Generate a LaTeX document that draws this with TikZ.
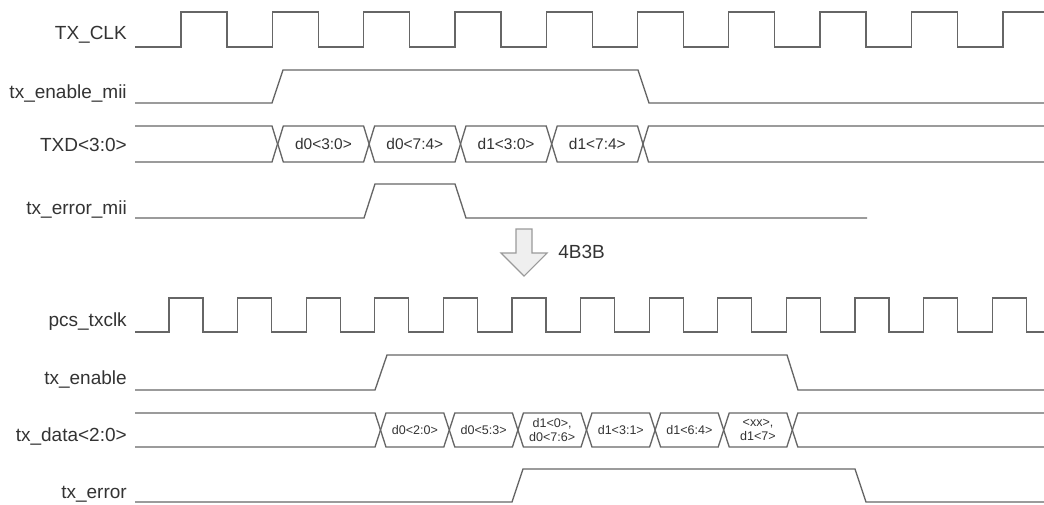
\documentclass[tikz,border=0pt]{standalone}
\usepackage{fontspec}
\setmainfont{Liberation Sans}
\usepackage{tikz}
\usetikzlibrary{positioning}
\usetikzlibrary{calc}
\definecolor{wavegray}{HTML}{666666}
\definecolor{textgray}{HTML}{333333}
\definecolor{arrowgray}{HTML}{9A9A9A}
\definecolor{arrowfill}{HTML}{EFEFEF}
\tikzstyle{wave} = [draw=wavegray, line width=1pt]
\tikzstyle{signame} = [anchor=base east, inner sep=0pt, text=textgray, font=\fontsize{14.25}{17}\selectfont]
\tikzstyle{busval} = [inner sep=0pt, text=textgray, font=\fontsize{11.6}{13}\selectfont]
\tikzstyle{smallbusval} = [inner sep=0pt, align=center, text=textgray, font=\fontsize{9.4}{10}\selectfont]
\tikzstyle{blockarrow} = [draw=arrowgray, fill=arrowfill, line width=0.8pt]

\begin{document}
\begin{tikzpicture}[x=0.75pt,y=-0.75pt]
    \useasboundingbox (0,0) rectangle (1044,504);

    \foreach \pos/\name/\label in {{(127,39)/txclk/TX\_CLK}, {(127,98)/txenmii/tx\_enable\_mii}, {(127,151)/txd/TXD<3:0>}, {(127,214)/txerrmii/tx\_error\_mii}, {(127,326)/pcsclk/pcs\_txclk}, {(127,384)/txen/tx\_enable}, {(127,441)/txdata/tx\_data<2:0>}, {(127,498)/txerr/tx\_error}}
        \node[signame] (\name) at \pos {\label};

    % MII side
    \draw[wave] (135,47) foreach \k in {0,...,8} {
        -- ({181+91.3*\k},47) -- ({181+91.3*\k},12) -- ({227+91.3*\k},12) -- ({227+91.3*\k},47)
    } -- (1003,47) -- (1003,12) -- (1044,12);

    \draw[wave] (135,103) -- (272,103) -- (283,70) -- (638,70) -- (649,103) -- (1044,103);

    \draw[wave] (135,126) -- (272,126) -- (277.5,144) -- (272,162) -- (135,162);
    \foreach \a/\b/\name/\label in {272.3/363.6/nib0/d0<3:0>, 363.6/455/nib1/d0<7:4>, 455/546.2/nib2/d1<3:0>, 546.2/637.5/nib3/d1<7:4>}
    {
        \draw[wave] ({\a+5.5},144) -- ({\a+11},126) -- (\b,126) -- ({\b+5.5},144) -- (\b,162) -- ({\a+11},162) -- cycle;
        \node[busval] (\name) at ({(\a+11+\b)/2},144) {\label};
    }
    \draw[wave] (1044,126) -- (648.5,126) -- (643,144) -- (648.5,162) -- (1044,162);

    \draw[wave] (135,218) -- (364,218) -- (375,184) -- (455,184) -- (466,218) -- (867,218);

    % 4B3B conversion
    \draw[blockarrow] (516,229) -- (532,229) -- (532,253) -- (547,253) -- (524,276) -- (501,253) -- (516,253) -- cycle;
    \node[signame, anchor=base west] (conv) at (558,258) {4B3B};

    % PCS side
    \draw[wave] (135,332) foreach \k in {0,...,12} {
        -- ({169+68.6*\k},332) -- ({169+68.6*\k},298) -- ({203+68.6*\k},298) -- ({203+68.6*\k},332)
    } -- (1044,332);

    \draw[wave] (135,390) -- (375,390) -- (387,355) -- (787,355) -- (798,390) -- (1044,390);

    \draw[wave] (135,413) -- (375,413) -- (380.5,430) -- (375,447) -- (135,447);
    \foreach \a/\b/\name/\label in {375/443.8/tri0/d0<2:0>, 443.8/512.4/tri1/d0<5:3>, 512.4/581/tri2/{d1<0>,\\d0<7:6>}, 581/649.6/tri3/d1<3:1>, 649.6/718.2/tri4/d1<6:4>, 718.2/786.8/tri5/{<xx>,\\d1<7>}}
    {
        \draw[wave] ({\a+5.5},430) -- ({\a+11},413) -- (\b,413) -- ({\b+5.5},430) -- (\b,447) -- ({\a+11},447) -- cycle;
        \node[smallbusval] (\name) at ({(\a+11+\b)/2},430) {\label};
    }
    \draw[wave] (1044,413) -- (797.8,413) -- (792.3,430) -- (797.8,447) -- (1044,447);

    \draw[wave] (135,502) -- (512,502) -- (523,469) -- (855,469) -- (866,502) -- (1044,502);
\end{tikzpicture}
\end{document}
